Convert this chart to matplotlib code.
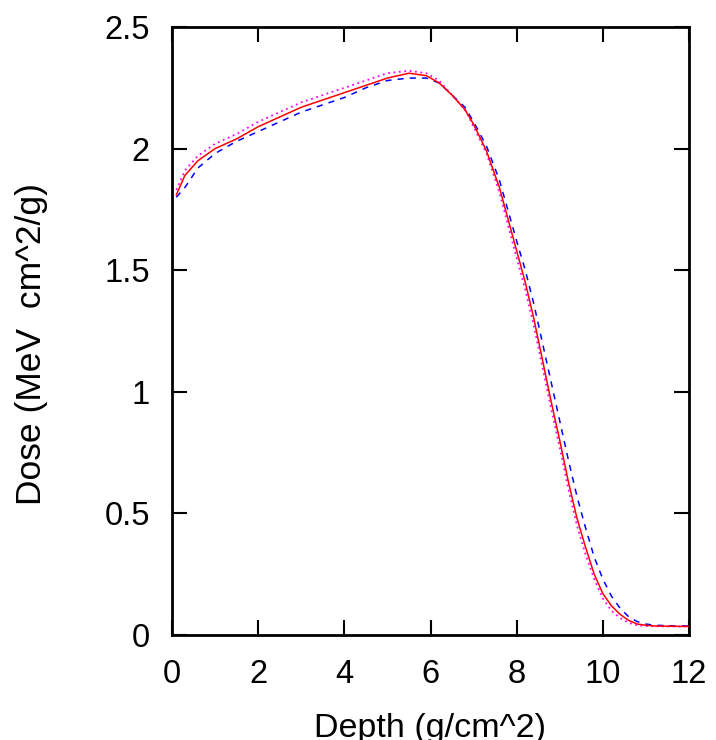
import matplotlib
matplotlib.use("Agg")
import matplotlib.pyplot as plt

plt.rcParams['font.family'] = ['Liberation Sans', 'DejaVu Sans']

# depth grid (g/cm^2)
depth = [0.1, 0.3, 0.6, 1.0, 1.5, 2.0, 2.5, 3.0, 3.5, 4.0, 4.5, 5.0, 5.5, 5.9,
         6.2, 6.5, 6.8, 7.0, 7.3, 7.6, 8.0, 8.2, 8.4, 8.6, 8.8, 9.0, 9.2, 9.4,
         9.6, 9.8, 10.0, 10.2, 10.4, 10.6, 10.8, 11.0, 11.2, 11.6, 12.0]

# dose curves (MeV cm^2/g)
dose_solid = [1.81, 1.89, 1.95, 2.00, 2.04, 2.09, 2.13, 2.17, 2.20, 2.23, 2.26, 2.29, 2.31, 2.30,
              2.27, 2.22, 2.16, 2.10, 1.99, 1.84, 1.58, 1.45, 1.30, 1.13, 0.96, 0.80, 0.63, 0.48,
              0.36, 0.25, 0.17, 0.12, 0.085, 0.06, 0.045, 0.04, 0.037, 0.036, 0.035]
dose_dashed = [1.80, 1.84, 1.92, 1.98, 2.03, 2.07, 2.11, 2.15, 2.18, 2.21, 2.25, 2.28, 2.29, 2.29,
               2.27, 2.22, 2.17, 2.11, 2.01, 1.87, 1.62, 1.50, 1.36, 1.20, 1.04, 0.88, 0.72, 0.57,
               0.44, 0.32, 0.23, 0.16, 0.11, 0.075, 0.055, 0.045, 0.04, 0.038, 0.037]
dose_dotted = [1.83, 1.91, 1.97, 2.02, 2.06, 2.11, 2.15, 2.19, 2.22, 2.25, 2.28, 2.31, 2.32, 2.31,
               2.28, 2.22, 2.16, 2.09, 1.98, 1.82, 1.55, 1.42, 1.27, 1.10, 0.93, 0.77, 0.60, 0.45,
               0.33, 0.23, 0.15, 0.10, 0.07, 0.05, 0.04, 0.037, 0.036, 0.035, 0.035]

fig = plt.figure(figsize=(7.16, 7.40), dpi=100)
ax = fig.add_axes([172 / 716, 105 / 740, 517 / 716, 608 / 740])

ax.plot(depth, dose_solid, color='#ff0000', lw=1.1, zorder=3)
ax.plot(depth, dose_dashed, color='#0000ff', lw=1.1, dashes=(4, 4), zorder=2)
ax.plot(depth, dose_dotted, color='#ff00ff', lw=1.3, dashes=(1, 2), zorder=2)

ax.set_xlim(0, 12)
ax.set_ylim(0, 2.5)
ax.set_xticks([0, 2, 4, 6, 8, 10, 12])
ax.set_yticks([0, 0.5, 1, 1.5, 2, 2.5])
ax.set_yticklabels(['0', '0.5', '1', '1.5', '2', '2.5'])

for s in ax.spines.values():
    s.set_linewidth(2.0)
ax.tick_params(direction='in', length=11, width=1.5, top=True, right=True,
               labelsize=23.5)
ax.tick_params(axis='x', pad=17)
ax.tick_params(axis='y', pad=16)

ax.set_xlabel('Depth (g/cm^2)', fontsize=24.5)
ax.xaxis.set_label_coords(0.5, -78 / 608, transform=ax.transAxes)
ax.xaxis.label.set_va('top')
ax.set_ylabel('Dose (MeV  cm^2/g)', fontsize=25.5)
ax.yaxis.set_label_coords(-124 / 517, 0.479, transform=ax.transAxes)

fig.savefig('out.png', dpi=100)
